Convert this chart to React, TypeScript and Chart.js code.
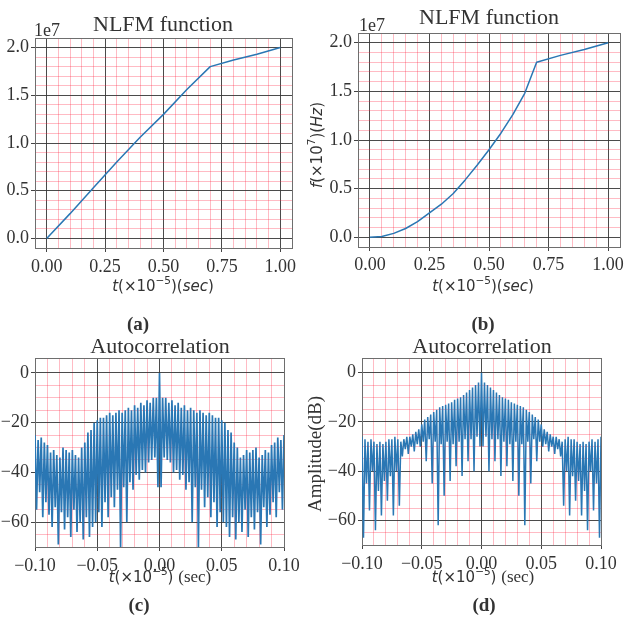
import React, { useEffect, useRef } from 'react';
import { Chart, registerables } from 'chart.js';

Chart.register(...registerables);

// ---------------- data ----------------
// (a) NLFM frequency law: time in units of 1e-5 s, frequency in units of 1e7 Hz
const A_TIME = [0, 0.1, 0.2, 0.3, 0.4, 0.5, 0.6, 0.7, 0.8, 0.9, 1.0];
const A_FREQ = [0, 0.26, 0.53, 0.8, 1.06, 1.3, 1.56, 1.8, 1.87, 1.93, 2.0];

// (b) NLFM frequency law (second design)
const B_TIME = [0, 0.05, 0.1, 0.15, 0.2, 0.25, 0.3, 0.35, 0.4, 0.45, 0.5, 0.55, 0.6, 0.65, 0.7, 0.8, 0.9, 1.0];
const B_FREQ = [0, 0.007, 0.04, 0.09, 0.16, 0.25, 0.34, 0.45, 0.59, 0.74, 0.9, 1.07, 1.26, 1.48, 1.8, 1.87, 1.93, 2.0];

// Autocorrelation (dB). Left half (t from -0.1 to 0) read off the plots as
// alternating peak / trough samples; the autocorrelation is symmetric about t = 0.
const C_PEAKS = [-25, -27, -26, -28, -29, -32, -31, -33, -34, -30, -31, -32, -31, -33, -34, -30, -28, -24, -23, -20,
  -19, -18, -18, -17, -16, -17, -16, -15, -16, -15, -14, -15, -13, -14, -12, -13, -11, -12, -10, -10];
const C_TROUGHS = [-55, -48, -58, -52, -57, -62, -54, -69, -56, -63, -58, -66, -55, -64, -60, -67, -58, -66, -62, -60,
  -56, -62, -52, -58, -50, -54, -47, -70, -46, -60, -44, -47, -41, -43, -39, -40, -36, -35, -34, -46];
const C_CENTRE = 0;

const D_PEAKS = [-26, -27, -28, -27, -28, -29, -28, -29, -28, -27, -27, -26, -27, -28, -27, -26, -26, -25, -24, -23,
  -21, -19, -18, -17, -16, -15, -14, -13.5, -13, -12.5, -12, -11, -10.5, -10, -9, -8, -7, -6, -5, -4];
const D_TROUGHS = [-67, -45, -56, -40, -64, -48, -58, -44, -52, -42, -58, -40, -54, -34, -31, -33, -30, -32, -29, -30,
  -28, -36, -27, -45, -28, -62, -29, -50, -28, -44, -29, -38, -28, -42, -27, -36, -27, -40, -26, -30];
const D_CENTRE = 0;

// tick values
const NLFM_X_TICKS = [0, 0.25, 0.5, 0.75, 1.0];
const NLFM_Y_TICKS = [0, 0.5, 1.0, 1.5, 2.0];
const AC_X_TICKS = [-0.1, -0.05, 0, 0.05, 0.1];
const AC_Y_TICKS = [-60, -40, -20, 0];
const AC_T_HALF = 0.1;

// ---------------- helpers ----------------
const SERIF = '"Liberation Serif", "Times New Roman", serif';
const SANS = '"DejaVu Sans", sans-serif';
const MAJOR_GRID = 'rgba(55,55,55,0.9)';
const MINOR_GRID = 'rgba(255,30,60,0.3)';
const FRAME = '#6e6e6e';
const TEXT = '#333333';
const LINE = '#2a77b4';

function pairs(xs: number[], ys: number[]) {
  return xs.map((x, i) => ({ x, y: ys[i] }));
}

function autocorr(peaks: number[], troughs: number[], centre: number) {
  const n = peaks.length;
  const dt = AC_T_HALF / n;
  const pts: { x: number; y: number }[] = [];
  for (let i = 0; i < n; i++) {
    pts.push({ x: -AC_T_HALF + i * dt, y: peaks[i] });
    pts.push({ x: -AC_T_HALF + (i + 0.5) * dt, y: troughs[i] });
  }
  pts.push({ x: 0, y: centre });
  for (let i = n - 1; i >= 0; i--) {
    pts.push({ x: AC_T_HALF - (i + 0.5) * dt, y: troughs[i] });
    pts.push({ x: AC_T_HALF - i * dt, y: peaks[i] });
  }
  return pts;
}

function fmtMinus(s: string) {
  return s.replace('-', '\u2212');
}

type Seg = { t: string; f: string; dy?: number };
type TextItem = { x: number; y: number; segs: Seg[]; rot?: number; align?: 'left' | 'center'; color?: string };

function drawItem(ctx: CanvasRenderingContext2D, it: TextItem) {
  ctx.save();
  ctx.translate(it.x, it.y);
  if (it.rot) ctx.rotate(it.rot);
  ctx.fillStyle = it.color || TEXT;
  ctx.textBaseline = 'middle';
  ctx.textAlign = 'left';
  let total = 0;
  const ws = it.segs.map((s) => {
    ctx.font = s.f;
    const w = ctx.measureText(s.t).width;
    total += w;
    return w;
  });
  let x = it.align === 'left' ? 0 : -total / 2;
  it.segs.forEach((s, i) => {
    ctx.font = s.f;
    ctx.fillText(s.t, x, s.dy || 0);
    x += ws[i];
  });
  ctx.restore();
}

const textPlugin = {
  id: 'panelText',
  afterDraw(chart: any, _args: any, opts: any) {
    const items: TextItem[] = (opts && opts.items) || [];
    items.forEach((it) => drawItem(chart.ctx, it));
  },
};

type AxisSpec = {
  min: number;
  max: number;
  step: number;
  majors: number[];
  fmt: (v: number) => string;
  size: number;
  pos: 'left' | 'bottom';
  pad: number;
};

function axis(a: AxisSpec) {
  const eps = a.step * 1e-4;
  const isMaj = (v: number) => a.majors.some((m) => Math.abs(m - v) < eps);
  const isEdge = (v: number) => Math.abs(v - a.min) < eps || Math.abs(v - a.max) < eps;
  const tv = (c: any) => (c && c.tick ? c.tick.value : NaN);
  return {
    type: 'linear',
    position: a.pos,
    min: a.min,
    max: a.max,
    afterFit: (s: any) => {
      if (a.pos === 'left') s.width = a.size;
      else s.height = a.size;
    },
    border: { display: true, color: FRAME, width: 1 },
    grid: {
      color: (c: any) => {
        const v = tv(c);
        if (isEdge(v)) return FRAME;
        return isMaj(v) ? MAJOR_GRID : MINOR_GRID;
      },
      lineWidth: 1,
      tickLength: 4,
      tickColor: (c: any) => (isMaj(tv(c)) ? '#444' : 'rgba(0,0,0,0)'),
      tickWidth: 1,
      drawTicks: true,
    },
    ticks: {
      stepSize: a.step,
      autoSkip: false,
      maxRotation: 0,
      minRotation: 0,
      padding: a.pad,
      color: TEXT,
      font: { family: SERIF, size: 18 },
      callback: (v: number) => {
        const val = Math.abs(v) < 1e-9 ? 0 : v;
        return isMaj(val) ? a.fmt(val) : '';
      },
    },
  };
}

function lineConfig(opts: {
  data: { x: number; y: number }[];
  x: any;
  y: any;
  padding: any;
  texts: TextItem[];
  width: number;
}) {
  return {
    type: 'line',
    data: {
      datasets: [
        {
          data: opts.data,
          borderColor: LINE,
          borderWidth: opts.width,
          pointRadius: 0,
          tension: 0,
          fill: false,
          borderJoinStyle: 'bevel',
        },
      ],
    },
    options: {
      animation: false,
      responsive: false,
      devicePixelRatio: 1,
      events: [],
      layout: { padding: opts.padding },
      plugins: {
        legend: { display: false },
        tooltip: { enabled: false },
        panelText: { items: opts.texts },
      },
      scales: { x: opts.x, y: opts.y },
    },
    plugins: [textPlugin],
  } as any;
}

function ChartPanel(props: { left: number; top: number; width: number; height: number; make: () => any }) {
  const ref = useRef<HTMLCanvasElement>(null);
  useEffect(() => {
    const chart = new Chart(ref.current as HTMLCanvasElement, props.make());
    return () => chart.destroy();
  }, []);
  return (
    <canvas
      ref={ref}
      width={props.width}
      height={props.height}
      style={{ position: 'absolute', left: props.left, top: props.top, width: props.width, height: props.height }}
    />
  );
}

// ---------------- text pieces ----------------
const sans = (s: number, it = false) => `${it ? 'italic ' : ''}${s}px ${SANS}`;
const serif = (s: number, bold = false) => `${bold ? 'bold ' : ''}${s}px ${SERIF}`;

const timeLabelNLFM: Seg[] = [
  { t: 't', f: sans(15, true) },
  { t: '(\u00d710', f: sans(15) },
  { t: '\u22125', f: sans(10.5), dy: -6 },
  { t: ')(', f: sans(15) },
  { t: 'sec', f: sans(15, true) },
  { t: ')', f: sans(15) },
];
const timeLabelAC: Seg[] = [
  { t: 't', f: sans(15, true) },
  { t: '(\u00d710', f: sans(15) },
  { t: '\u22125', f: sans(10.5), dy: -6 },
  { t: ') ', f: sans(15) },
  { t: '(sec)', f: serif(17) },
];
const freqLabel: Seg[] = [
  { t: 'f', f: sans(15, true) },
  { t: '(\u00d710', f: sans(15) },
  { t: '7', f: sans(10.5), dy: -6 },
  { t: ')(', f: sans(15) },
  { t: 'Hz', f: sans(15, true) },
  { t: ')', f: sans(15) },
];

const nlfmX = (pad: number) =>
  axis({ min: -0.05, max: 1.05, step: 0.05, majors: NLFM_X_TICKS, fmt: (v) => v.toFixed(2), size: 30, pos: 'bottom', pad });
const nlfmY = (size: number) =>
  axis({ min: -0.1, max: 2.1, step: 0.1, majors: NLFM_Y_TICKS, fmt: (v) => v.toFixed(1), size, pos: 'left', pad: 2 });
const acX = (pad: number) =>
  axis({ min: -0.1, max: 0.1, step: 0.01, majors: AC_X_TICKS, fmt: (v) => fmtMinus(v.toFixed(2)), size: 30, pos: 'bottom', pad });
const acY = (size: number) =>
  axis({ min: -70, max: 6, step: 5, majors: AC_Y_TICKS, fmt: (v) => fmtMinus(v.toFixed(0)), size, pos: 'left', pad: 2 });

const makeA = () =>
  lineConfig({
    data: pairs(A_TIME, A_FREQ),
    x: nlfmX(4),
    y: nlfmY(35),
    padding: { left: 0, top: 38, right: 21, bottom: 340 - 248 - 30 },
    width: 1.5,
    texts: [
      { x: 163, y: 25, segs: [{ t: 'NLFM function', f: serif(22) }] },
      { x: 34, y: 31, segs: [{ t: '1e7', f: serif(18) }], align: 'left' },
      { x: 163, y: 287, segs: timeLabelNLFM },
      { x: 138, y: 325, segs: [{ t: '(a)', f: serif(19, true) }] },
    ],
  });

const makeB = () =>
  lineConfig({
    data: pairs(B_TIME, B_FREQ),
    x: nlfmX(3),
    y: nlfmY(55),
    padding: { left: 0, top: 33, right: 7, bottom: 340 - 247 - 30 },
    width: 1.5,
    texts: [
      { x: 186, y: 18, segs: [{ t: 'NLFM function', f: serif(22) }] },
      { x: 56, y: 26, segs: [{ t: '1e7', f: serif(18) }], align: 'left' },
      { x: 180, y: 287, segs: timeLabelNLFM },
      { x: 15, y: 145, segs: freqLabel, rot: -Math.PI / 2 },
      { x: 180, y: 325, segs: [{ t: '(b)', f: serif(19, true) }] },
    ],
  });

const makeC = () =>
  lineConfig({
    data: autocorr(C_PEAKS, C_TROUGHS, C_CENTRE),
    x: acX(4),
    y: acY(35),
    padding: { left: 0, top: 28, right: 29, bottom: 296 - 217 - 30 },
    width: 1.7,
    texts: [
      { x: 160, y: 17, segs: [{ t: 'Autocorrelation', f: serif(22) }] },
      { x: 160, y: 248, segs: timeLabelAC },
      { x: 139, y: 276, segs: [{ t: '(c)', f: serif(19, true) }] },
    ],
  });

const makeD = () =>
  lineConfig({
    data: autocorr(D_PEAKS, D_TROUGHS, D_CENTRE),
    x: acX(4),
    y: acY(59),
    padding: { left: 0, top: 28, right: 26, bottom: 296 - 215 - 30 },
    width: 1.5,
    texts: [
      { x: 179, y: 17, segs: [{ t: 'Autocorrelation', f: serif(22) }] },
      { x: 180, y: 248, segs: timeLabelAC },
      { x: 13, y: 124, segs: [{ t: 'Amplitude(dB)', f: serif(19) }], rot: -Math.PI / 2 },
      { x: 181, y: 276, segs: [{ t: '(d)', f: serif(19, true) }] },
    ],
  });

export default function App() {
  return (
    <div
      style={{
        position: 'fixed',
        left: 0,
        top: 0,
        width: 627,
        height: 626,
        background: '#ffffff',
        overflow: 'hidden',
      }}
    >
      <ChartPanel left={0} top={0} width={313} height={340} make={makeA} />
      <ChartPanel left={303} top={0} width={324} height={340} make={makeB} />
      <ChartPanel left={0} top={330} width={313} height={296} make={makeC} />
      <ChartPanel left={303} top={330} width={324} height={296} make={makeD} />
    </div>
  );
}
